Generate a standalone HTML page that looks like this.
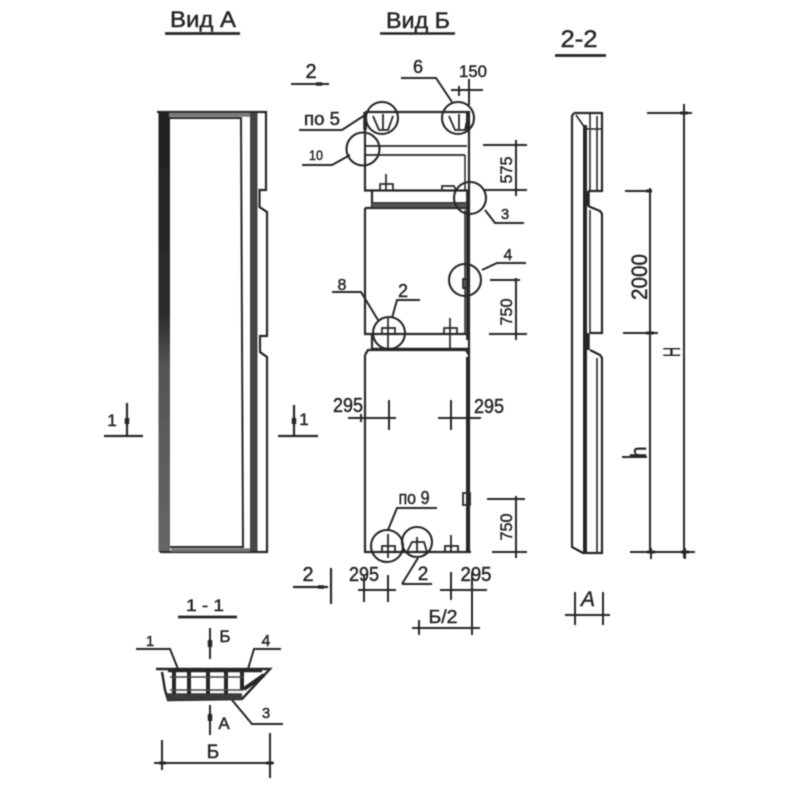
<!DOCTYPE html>
<html><head><meta charset="utf-8"><title>Вид А, Вид Б</title>
<style>html,body{margin:0;padding:0;background:#fff}svg{display:block}
text{font-family:"Liberation Sans",sans-serif;fill:#262626;stroke:#262626;stroke-width:.45;text-anchor:middle}</style></head>
<body>
<svg width="800" height="800" viewBox="0 0 800 800" xmlns="http://www.w3.org/2000/svg">
<defs>
<filter id="b" x="-5%" y="-5%" width="110%" height="110%"><feGaussianBlur stdDeviation="0.6"/></filter>
<linearGradient id="band" x1="0" y1="112" x2="0" y2="552" gradientUnits="userSpaceOnUse">
<stop offset="0" stop-color="#222"/><stop offset="0.46" stop-color="#2c2c2c"/><stop offset="0.58" stop-color="#555"/><stop offset="1" stop-color="#666"/></linearGradient>
</defs>
<g filter="url(#b)" fill="none" stroke="#262626" stroke-width="2">
<!-- titles -->
<text x="203" y="27" font-size="22" textLength="66" lengthAdjust="spacingAndGlyphs">Вид А</text>
<path d="M165 33.500H240" stroke-width="2.800"/>
<text x="418" y="28" font-size="22" textLength="64" lengthAdjust="spacingAndGlyphs">Вид Б</text>
<path d="M380 33.500H455" stroke-width="2.600"/>
<text x="579" y="47" font-size="24" textLength="37" lengthAdjust="spacingAndGlyphs">2-2</text>
<path d="M555 55.500H606" stroke-width="2.800"/>

<!-- left view -->
<rect x="158.500" y="112" width="11.500" height="440" fill="url(#band)" stroke="none"/>
<rect x="250" y="113" width="7.500" height="439" fill="#444" stroke="none"/>
<path d="M157 112H266V190H259.500V207L267 212V336H260V352L267 357V552H160" stroke-width="2.200"/>
<path d="M169 118H241L243 547H170" stroke-width="2"/>
<path d="M169 115H250M171 550H250" stroke="#777" stroke-width="3.500"/>
<path d="M104 436H143M127 403V436M278 436H318M294 405V436" stroke-width="2.200"/>
<path d="M127 418v6M294 418v6" stroke-width="4.500"/>
<text x="112" y="426" font-size="17">1</text>
<text x="304" y="425" font-size="17">1</text>

<!-- middle view -->
<path d="M365 112H469V552M365 112V190.500H469M372 190.500V208M365 208H469M365 208V334H469M372 334V349M365 355L368 350H466L469 355M365 355V552H471" stroke-width="2.200"/>
<path d="M365 146H467M365 155H465M372 203H466" stroke-width="1.800"/>
<path d="M465 155V190M465 210V334" stroke-width="1.500"/>
<path d="M468 190V340" stroke-width="3.800"/>
<path d="M468 357V552" stroke-width="4"/>
<path d="M372 349H468" stroke-width="2.600"/>
<path d="M372 205.500H466" stroke-width="3.500" stroke="#555"/>
<!-- circles -->
<g stroke-width="2.100">
<circle cx="382" cy="118" r="16"/><circle cx="458" cy="118" r="16"/>
<circle cx="363" cy="149" r="16.500"/><circle cx="470" cy="198" r="16"/>
<circle cx="465" cy="280" r="16"/><circle cx="389" cy="333" r="16"/>
<circle cx="387" cy="546" r="16"/><circle cx="417" cy="542" r="15"/>
</g>
<!-- insert details -->
<path d="M373 116L379 130H388L393 116M383 114V130M449 116L455 130H465L468 116M459 114V130" stroke-width="1.800"/>
<path d="M365 112V130" stroke-width="3.500"/><path d="M468 112V130" stroke-width="4"/>
<path d="M380 190V184H393V190M386 174V190M442 190V186H454L456 190M382 334V328H395V334M388 318V348M444 334V328H457V334M450 318V348" stroke-width="1.700"/>
<path d="M382 552V546H395V552M388 534V558M407 552L412 542H424L427 552M417 537V552M445 552V546H458V552M451 535V552" stroke-width="1.800"/>
<path d="M463 279H469V288H463ZM463 493H470V505H463Z" stroke-width="1.800"/>
<!-- leaders -->
<path d="M291 84H329"/><path d="M316 84h6" stroke-width="3.500"/>
<text x="311" y="78" font-size="20">2</text>
<path d="M401 78H436L452 102"/><text x="418" y="73" font-size="18">6</text>
<path d="M469 79V105M451 90H483M459 86V96M469 86V96"/>
<text x="473" y="77" font-size="17" textLength="28" lengthAdjust="spacingAndGlyphs">150</text>
<path d="M299 130H342L365 115"/><text x="322" y="125" font-size="18" textLength="36" lengthAdjust="spacingAndGlyphs">по 5</text>
<path d="M302 165H332L350 155"/><text x="316" y="160" font-size="14" textLength="14" lengthAdjust="spacingAndGlyphs">10</text>
<path d="M483 145H527M483 190H527M516 140V196M511 145h10M511 190h10"/>
<text transform="translate(512,170) rotate(-90)" font-size="17" textLength="27" lengthAdjust="spacingAndGlyphs">575</text>
<path d="M485 210L495 223H524"/><text x="505" y="219" font-size="15">3</text>
<path d="M482 270L497 263H526"/><text x="508" y="260" font-size="16">4</text>
<path d="M490 280H520M489 334H527M516 278V340M512 280h8M512 334h8"/>
<text transform="translate(512,312) rotate(-90)" font-size="17" textLength="27" lengthAdjust="spacingAndGlyphs">750</text>
<path d="M332 292H361L378 320"/><text x="342" y="290" font-size="16">8</text>
<path d="M420 300H397L392 318"/><text x="403" y="297" font-size="18">2</text>
<!-- 295 -->
<text x="348" y="412" font-size="20" textLength="30" lengthAdjust="spacingAndGlyphs">295</text>
<text x="489" y="413" font-size="20" textLength="30" lengthAdjust="spacingAndGlyphs">295</text>
<path d="M348 418H396M389 400V430M438 418H481M451 400V430M361 414v8M469 414v8"/>
<text x="414" y="504" font-size="18" textLength="31" lengthAdjust="spacingAndGlyphs">по 9</text>
<path d="M437 508H397L388 530"/>
<path d="M487 499H525M492 552H527M516 496V558M512 499h8M512 552h8"/>
<text transform="translate(512,527) rotate(-90)" font-size="17" textLength="27" lengthAdjust="spacingAndGlyphs">750</text>
<path d="M402 584L418 558M402 584H432"/><text x="423" y="580" font-size="19">2</text>
<path d="M293 587H328M331 568V604" stroke-width="2.200"/><path d="M318 587h6" stroke-width="3.500"/>
<text x="308" y="581" font-size="20">2</text>
<text x="364" y="581" font-size="20" textLength="30" lengthAdjust="spacingAndGlyphs">295</text>
<text x="476" y="581" font-size="20" textLength="31" lengthAdjust="spacingAndGlyphs">295</text>
<path d="M358 590H396M364 575V602M388 575V602M440 590H487M451 572V600M472 572V632M412 628H480M419 620V635M472 623V635"/>
<text x="443" y="623" font-size="18" textLength="29" lengthAdjust="spacingAndGlyphs">Б/2</text>

<!-- right view 2-2 -->
<path d="M574 113H602V191H588M588 206L600 211L602 214V333H590M590 350L600 355L602 358V553H583L572 547V116L574 113" stroke-width="2.200"/>
<path d="M585 125V553" stroke-width="4"/>
<path d="M585 129H602M590 113V129M597 116V190M590 130V190M590 210V333M597 358V553M576 115L585 128" stroke-width="1.600"/>
<path d="M588 191V206M588 333V350" stroke-width="3.500"/>
<!-- right dims -->
<path d="M647 113H692M684 104V558M625 191H652M623 333H658M650 188V552M622 457H647M630 552H695M651 548V559M685 548V559"/>
<path d="M680 113h8M646 333h8M646 191h6M647 552h8M681 552h8" stroke-width="3"/>
<text transform="translate(647,277) rotate(-90)" font-size="22" textLength="46" lengthAdjust="spacingAndGlyphs">2000</text>
<text transform="translate(680,352) rotate(-90)" font-size="24" textLength="10" lengthAdjust="spacingAndGlyphs">Н</text>
<text transform="translate(646,452) rotate(-90)" font-size="22" textLength="11" lengthAdjust="spacingAndGlyphs">h</text>
<path d="M565 615H610M575 592V625M603 592V625"/>
<text x="588" y="606" font-size="21" font-style="italic">А</text>

<!-- section 1-1 -->
<text x="205" y="611" font-size="17" textLength="38" lengthAdjust="spacingAndGlyphs">1 - 1</text>
<path d="M178 617H237" stroke-width="2.800"/>
<path d="M156 669H270L242 699L168 700L165 690L162 672" stroke-width="2.400"/>
<path d="M168 670.500H262" stroke-width="3.400"/>
<path d="M167 696.500H242" stroke-width="6.500" stroke="#3a3a3a"/>
<path d="M174 671V694M189 671V694M208 671V694M226 671V694M242 671V690M244 689L264 675" stroke-width="4"/>
<path d="M170 677H244M170 690H244" stroke-width="1.500" stroke="#444"/>
<path d="M210 628V659M210 705V735"/>
<path d="M210 640v7" stroke-width="4.500"/><path d="M210 714v7" stroke-width="4.500"/>
<text x="225" y="642" font-size="17">Б</text>
<text x="224" y="729" font-size="17">А</text>
<path d="M136 649H170L178 669"/><text x="150" y="646" font-size="15">1</text>
<path d="M281 649H254L248 669"/><text x="266" y="646" font-size="16">4</text>
<path d="M232 700L252 724H283"/><text x="266" y="718" font-size="15">3</text>
<path d="M154 763H274M162 740V770M270 733V778"/>
<path d="M159 763h7M266 763h7" stroke-width="3"/>
<text x="213" y="758" font-size="19">Б</text>
</g>
</svg>
</body></html>
